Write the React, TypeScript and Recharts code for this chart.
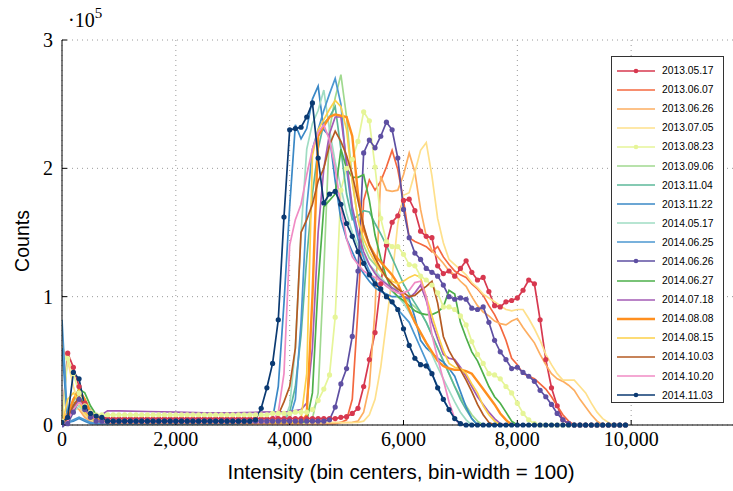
import React from 'react';
import { LineChart, Line, XAxis, YAxis, CartesianGrid, Legend } from 'recharts';

// counts are in thousands; bins are 100 wide
const seriesNames = [
  '2013.05.17', '2013.06.07', '2013.06.26', '2013.07.05', '2013.08.23', '2013.09.06',
  '2013.11.04', '2013.11.22', '2014.05.17', '2014.06.25', '2014.06.26', '2014.06.27',
  '2014.07.18', '2014.08.08', '2014.08.15', '2014.10.03', '2014.10.20', '2014.11.03',
];
const seriesColors = [
  '#d7384f', '#f4683f', '#fdae61', '#fee08b', '#e6f598', '#a0d98f',
  '#5cb89a', '#3a88c6', '#9fdcc3', '#4b97d1', '#5e4fa2', '#4daf4a',
  '#a35bb5', '#ff8f1f', '#fdd049', '#b55a22', '#f08bc4', '#0b3a72',
];
const markedSeries = ['2013.05.17', '2013.08.23', '2014.06.26', '2014.11.03'];

const xTicks = [0, 2000, 4000, 6000, 8000, 10000];
const yTicks = [0, 100, 200, 300];

// marked series: one value per bin, from bin 0
const r130517 = [
  3, 56, 45, 30, 17, 10, 7, 6, 5, 5, 5, 5, 5, 5, 5, 5, 5, 5, 5, 5, 5, 5, 5, 5, 5, 5, 5, 5, 5, 5,
  5, 5, 5, 5, 5, 5, 5, 5, 5, 5, 5, 5, 5, 5, 5, 5, 5, 5, 5, 6, 6.5, 9, 13, 30, 51, 72, 110, 140, 158, 163,
  175, 176, 167, 151, 147, 146, 124, 118, 120, 116, 122, 128, 119, 113, 115, 104, 93, 92, 96, 97,
  99, 105, 113, 110, 82, 51, 29, 15, 4, 1, 0, 0, 0, 0, 0, 0, 0, 0, 0, 0,
];
const r130823 = [
  3, 52, 40, 25, 15, 10, 8, 8, 8, 8, 8, 8, 8, 8, 8, 8, 8, 8, 8, 8, 8, 8, 8, 8, 8, 8, 8, 8, 8, 8,
  8, 8, 8, 8, 8, 8, 8, 9, 9, 9, 9, 10, 10, 10, 12, 19, 28, 39, 84, 183, 200, 207, 221, 244, 237, 201, 161, 143, 139, 139,
  133, 125, 124, 116, 113, 109, 103, 92, 92, 90, 85, 78, 65, 55, 48, 40, 39, 36, 30, 25,
  17, 9, 4, 1, 0, 0, 0, 0, 0, 0, 0, 0, 0, 0, 0, 0, 0, 0, 0, 0,
];
const r140626 = [
  0, 1, 10, 20, 12, 6, 3, 3, 3, 3, 3, 3, 3, 3, 3, 3, 3, 3, 3, 3, 3, 3, 3, 3, 3, 3, 3, 3, 3, 3,
  3, 3, 3, 3, 3, 3, 3, 3, 3, 3, 3, 3, 3, 3, 3, 3, 3, 4, 14, 32, 44, 69, 120, 212, 222, 216, 225, 236, 230, 208,
  168, 146, 134, 129, 122, 119, 116, 109, 100, 98, 99, 98, 91, 90, 92, 80, 66, 57, 51, 44,
  45, 41, 38, 34, 27, 22, 16, 9, 4, 1, 0, 0, 0, 0, 0, 0, 0, 0, 0, 0,
];
const r141103 = [
  2, 6, 41, 36, 14, 9, 7, 6, 3, 3, 3, 3, 3, 3, 3, 3, 3, 3, 3, 3, 3, 3, 3, 3, 3, 3, 3, 3, 3, 3,
  3, 3, 3, 3, 4, 13, 29, 48, 82, 162, 230, 231, 232, 240, 251, 208, 173, 180, 182, 172, 157, 147, 135, 126, 117, 110, 106, 100, 96, 90,
  75, 62, 52, 47, 46, 40, 29, 20, 12, 5, 1, 0, 0, 0, 0, 0, 0, 0, 0, 0,
  0, 0, 0, 0, 0, 0, 0, 0, 0, 0, 0, 0, 0, 0, 0, 0, 0, 0, 0, 0,
];

// plain series: [bin center, count]
const s130607 = [[0, 3], [100, 8], [200, 18], [300, 15], [400, 8], [500, 4], [600, 2], [1000, 1], [3000, 1], [4800, 1], [4900, 2], [5000, 4], [5100, 20], [5200, 90], [5300, 175], [5400, 191], [5500, 183], [5600, 190], [5700, 201], [5800, 214], [5900, 199], [6000, 175], [6100, 146], [6200, 143], [6300, 141], [6400, 139], [6500, 135], [6600, 139], [6700, 131], [6800, 125], [6900, 120], [7000, 117], [7100, 115], [7200, 110], [7300, 106], [7400, 101], [7500, 93], [7600, 86], [7700, 77], [7800, 66], [7900, 52], [8000, 47], [8100, 40], [8200, 38], [8300, 36], [8400, 32], [8500, 28], [8600, 22], [8700, 15], [8800, 8], [8900, 3], [9000, 0]];
const s130626 = [[0, 5], [100, 10], [200, 15], [300, 12], [400, 6], [500, 3], [600, 2], [1000, 1], [3000, 1], [5100, 2], [5200, 3], [5300, 10], [5400, 30], [5500, 90], [5600, 194], [5700, 183], [5800, 182], [5900, 183], [6000, 195], [6100, 212], [6200, 197], [6300, 168], [6400, 147], [6500, 136], [6600, 131], [6700, 126], [6800, 120], [6900, 117], [7000, 112], [7100, 108], [7200, 100], [7300, 93], [7400, 88], [7500, 85], [7600, 81], [7700, 79], [7800, 78], [7900, 81], [8000, 83], [8100, 76], [8200, 70], [8300, 64], [8400, 55], [8500, 47], [8600, 40], [8700, 36], [8800, 34], [8900, 31], [9000, 27], [9100, 20], [9200, 14], [9300, 8], [9400, 3], [9500, 0]];
const s130705 = [[0, 62], [100, 50], [200, 30], [300, 15], [400, 8], [500, 4], [600, 2], [1000, 1], [3000, 1], [5200, 2], [5300, 3], [5400, 8], [5500, 20], [5600, 45], [5700, 80], [5800, 115], [5900, 157], [6000, 179], [6100, 181], [6200, 197], [6300, 214], [6400, 220], [6500, 194], [6600, 161], [6700, 142], [6800, 129], [6900, 125], [7000, 121], [7100, 117], [7200, 111], [7300, 107], [7400, 102], [7500, 99], [7600, 96], [7700, 93], [7800, 90], [7900, 89], [8000, 90], [8100, 90], [8200, 83], [8300, 75], [8400, 66], [8500, 55], [8600, 47], [8700, 40], [8800, 35], [8900, 35], [9000, 35], [9100, 30], [9200, 25], [9300, 17], [9400, 10], [9500, 5], [9600, 2], [9700, 0]];
const s130906 = [[0, 0], [100, 6], [200, 18], [300, 25], [400, 20], [500, 12], [600, 6], [700, 3], [1000, 2], [3000, 2], [4300, 2], [4400, 5], [4500, 25], [4600, 120], [4700, 230], [4800, 255], [4900, 273], [5000, 240], [5100, 190], [5200, 160], [5300, 140], [5400, 130], [5500, 125], [5600, 120], [5700, 115], [5800, 110], [5900, 104], [6000, 100], [6100, 96], [6200, 92], [6300, 88], [6400, 80], [6500, 70], [6600, 60], [6700, 50], [6800, 40], [6900, 30], [7000, 22], [7100, 15], [7200, 8], [7300, 3], [7400, 0]];
const s131104 = [[0, 0], [100, 4], [200, 14], [300, 18], [400, 12], [500, 6], [600, 3], [1000, 2], [3000, 2], [3800, 2], [3900, 4], [4000, 10], [4100, 30], [4200, 70], [4300, 130], [4400, 180], [4500, 215], [4600, 235], [4700, 240], [4800, 248], [4900, 215], [5000, 180], [5100, 160], [5200, 163], [5300, 167], [5400, 166], [5500, 157], [5600, 149], [5700, 140], [5800, 130], [5900, 120], [6000, 110], [6100, 102], [6200, 95], [6300, 88], [6400, 80], [6500, 70], [6600, 60], [6700, 50], [6800, 40], [6900, 30], [7000, 20], [7100, 12], [7200, 5], [7300, 0]];
const s131122 = [[0, 60], [100, 2], [200, 3], [300, 5], [400, 3], [500, 1], [1000, 1], [3000, 1], [3600, 2], [3700, 5], [3800, 30], [3900, 95], [4000, 170], [4100, 234], [4200, 223], [4300, 231], [4400, 254], [4500, 264], [4600, 230], [4700, 225], [4800, 190], [4900, 160], [5000, 145], [5100, 135], [5200, 125], [5300, 118], [5400, 112], [5500, 107], [5600, 104], [5700, 102], [5800, 100], [5900, 100], [6000, 100], [6100, 98], [6200, 84], [6300, 66], [6400, 60], [6500, 56], [6600, 52], [6700, 49], [6800, 44], [6900, 38], [7000, 26], [7100, 14], [7200, 5], [7300, 0]];
const s140517 = [[0, 0], [100, 3], [200, 10], [300, 15], [400, 10], [500, 5], [600, 3], [1000, 2], [3000, 2], [3800, 2], [3900, 3], [4000, 15], [4100, 60], [4200, 150], [4300, 215], [4400, 235], [4500, 245], [4600, 261], [4700, 230], [4800, 205], [4900, 185], [5000, 165], [5100, 150], [5200, 140], [5300, 132], [5400, 125], [5500, 120], [5600, 115], [5700, 110], [5800, 104], [5900, 100], [6000, 95], [6100, 88], [6200, 80], [6300, 72], [6400, 64], [6500, 55], [6600, 45], [6700, 36], [6800, 27], [6900, 18], [7000, 10], [7100, 4], [7200, 0]];
const s140625 = [[0, 82], [100, 2], [200, 4], [300, 6], [400, 4], [500, 2], [600, 1], [1000, 1], [3000, 1], [3900, 2], [4000, 5], [4100, 20], [4200, 80], [4300, 170], [4400, 215], [4500, 230], [4600, 245], [4700, 258], [4800, 270], [4900, 250], [5000, 200], [5100, 165], [5200, 145], [5300, 130], [5400, 120], [5500, 112], [5600, 106], [5700, 100], [5800, 95], [5900, 90], [6000, 85], [6100, 80], [6200, 70], [6300, 60], [6400, 50], [6500, 40], [6600, 30], [6700, 20], [6800, 12], [6900, 5], [7000, 0]];
const s140627 = [[0, 0], [100, 5], [200, 20], [300, 28], [400, 25], [500, 15], [600, 8], [700, 4], [800, 2], [3000, 2], [4200, 2], [4300, 3], [4400, 25], [4500, 110], [4600, 170], [4700, 175], [4800, 180], [4900, 215], [5000, 200], [5100, 193], [5200, 193], [5300, 195], [5400, 175], [5500, 148], [5600, 130], [5700, 115], [5800, 105], [5900, 100], [6000, 97], [6100, 93], [6200, 89], [6300, 87], [6400, 86], [6500, 86], [6600, 88], [6700, 92], [6800, 105], [6900, 102], [7000, 80], [7100, 68], [7200, 57], [7300, 50], [7400, 40], [7500, 30], [7600, 22], [7700, 17], [7800, 10], [7900, 3], [8000, 0]];
const s140718 = [[0, 0], [100, 3], [200, 15], [300, 20], [400, 12], [500, 6], [600, 5], [700, 8], [800, 11], [1000, 11], [1500, 10.5], [2000, 10], [2500, 9.5], [3000, 9.5], [3500, 10], [4000, 10.5], [4200, 12], [4300, 17], [4400, 60], [4500, 150], [4600, 200], [4700, 227], [4800, 240], [4900, 240], [5000, 205], [5100, 170], [5200, 150], [5300, 135], [5400, 125], [5500, 118], [5600, 113], [5700, 110], [5800, 107], [5900, 104], [6000, 100], [6100, 99], [6200, 103], [6300, 109], [6400, 97], [6500, 80], [6600, 67], [6700, 55], [6800, 52], [6900, 51], [7000, 45], [7100, 38], [7200, 30], [7300, 22], [7400, 16], [7500, 10], [7600, 5], [7700, 1], [7800, 0]];
const s140808 = [[0, 0], [100, 8], [200, 20], [300, 27], [400, 20], [500, 10], [600, 5], [700, 3], [800, 2], [3000, 2], [4200, 2], [4300, 8], [4400, 100], [4500, 225], [4600, 233], [4700, 240], [4800, 242], [4900, 241], [5000, 240], [5100, 225], [5200, 180], [5300, 152], [5400, 140], [5500, 132], [5600, 127], [5700, 122], [5800, 117], [5900, 110], [6000, 100], [6100, 90], [6200, 80], [6300, 72], [6400, 64], [6500, 57], [6600, 50], [6700, 46], [6800, 44], [6900, 43], [7000, 43], [7100, 42], [7200, 40], [7300, 34], [7400, 28], [7500, 22], [7600, 16], [7700, 9], [7800, 4], [7900, 0]];
const s140815 = [[0, 0], [100, 20], [200, 25], [300, 18], [400, 10], [500, 5], [600, 3], [1000, 2], [3000, 2], [4100, 2], [4200, 5], [4300, 40], [4400, 210], [4500, 230], [4600, 238], [4700, 246], [4800, 253], [4900, 248], [5000, 230], [5100, 190], [5200, 160], [5300, 145], [5400, 135], [5500, 127], [5600, 120], [5700, 115], [5800, 112], [5900, 110], [6000, 112], [6100, 115], [6200, 117], [6300, 115], [6400, 100], [6500, 85], [6600, 71], [6700, 58], [6800, 48], [6900, 45], [7000, 44], [7100, 40], [7200, 32], [7300, 25], [7400, 15], [7500, 8], [7600, 3], [7700, 0]];
const s141003 = [[0, 0], [100, 5], [200, 15], [300, 22], [400, 15], [500, 8], [600, 4], [700, 2], [3000, 2], [3600, 2], [3700, 3], [3800, 8], [3900, 18], [4000, 30], [4100, 60], [4200, 150], [4300, 160], [4400, 172], [4500, 190], [4600, 200], [4700, 218], [4800, 229], [4900, 221], [5000, 210], [5100, 195], [5200, 175], [5300, 155], [5400, 140], [5500, 130], [5600, 122], [5700, 115], [5800, 110], [5900, 106], [6000, 103], [6100, 100], [6200, 101], [6300, 105], [6400, 108], [6500, 112], [6600, 95], [6700, 69], [6800, 58], [6900, 50], [7000, 43], [7100, 35], [7200, 26], [7300, 16], [7400, 8], [7500, 2], [7600, 0]];
const s141020 = [[0, 0], [100, 3], [200, 12], [300, 18], [400, 14], [500, 8], [600, 4], [700, 2], [3000, 2], [3600, 2], [3700, 3], [3800, 10], [3900, 40], [4000, 140], [4100, 160], [4200, 172], [4300, 195], [4400, 215], [4500, 228], [4600, 234], [4700, 222], [4800, 200], [4900, 170], [5000, 145], [5100, 131], [5200, 125], [5300, 120], [5400, 117], [5500, 115], [5600, 112], [5700, 108], [5800, 105], [5900, 103], [6000, 103], [6100, 105], [6200, 111], [6300, 112], [6400, 100], [6500, 70], [6600, 52], [6700, 35], [6800, 18], [6900, 5], [7000, 0]];

const binned = (vals: number[]) => vals.map((y, i) => ({ x: i * 100, y }));
const paired = (pts: number[][]) => pts.map(([x, y]) => ({ x, y }));

const seriesData = [
  binned(r130517), paired(s130607), paired(s130626), paired(s130705), binned(r130823), paired(s130906),
  paired(s131104), paired(s131122), paired(s140517), paired(s140625), binned(r140626), paired(s140627),
  paired(s140718), paired(s140808), paired(s140815), paired(s141003), paired(s141020), binned(r141103),
];

const series = seriesNames.map((name, i) => ({
  name,
  color: seriesColors[i],
  data: seriesData[i],
  marked: markedSeries.includes(name),
  width: name === '2014.08.08' ? 2.4 : 1.7,
}));

const serif = '"Liberation Serif", "DejaVu Serif", serif';
const sans = '"Liberation Sans", Arial, sans-serif';

function LegendBox() {
  return (
    <div
      style={{
        width: 113,
        height: 347,
        border: '1.6px solid #333',
        background: '#fff',
        boxSizing: 'border-box',
        paddingTop: 4,
        fontFamily: sans,
        fontSize: 10.3,
      }}
    >
      {series.map((s) => (
        <div key={s.name} style={{ display: 'flex', alignItems: 'center', height: 19.1 }}>
          <svg width={50} height={10} style={{ flex: 'none' }}>
            <line x1={5} y1={5} x2={43} y2={5} stroke={s.color} strokeWidth={s.width} />
            {s.marked && <circle cx={24} cy={5} r={2.3} fill={s.color} />}
          </svg>
          <span style={{ color: '#000' }}>{s.name}</span>
        </div>
      ))}
    </div>
  );
}

export default function App() {
  return (
    <div style={{ position: 'absolute', left: 0, top: 0, width: 733, height: 491, overflow: 'hidden', background: '#fff' }}>
      <LineChart width={760} height={491} margin={{ top: 40, right: 15, bottom: 0, left: 0 }}>
        <CartesianGrid stroke="#9a9a9a" strokeDasharray="1 4" />
        <XAxis
          dataKey="x"
          type="number"
          domain={[0, 12000]}
          ticks={xTicks}
          allowDataOverflow
          height={66}
          tickSize={-5}
          tickMargin={12}
          tickFormatter={(v: number) => v.toLocaleString('en-US')}
          tick={{ fontFamily: serif, fontSize: 20, fill: '#000' }}
          stroke="#000"
        />
        <XAxis xAxisId="top" orientation="top" type="number" domain={[0, 12000]} ticks={xTicks} height={0} tick={false} tickSize={-5} stroke="#000" />
        <YAxis
          type="number"
          domain={[0, 300]}
          ticks={yTicks}
          width={62}
          tickSize={-5}
          tickMargin={14}
          tickFormatter={(v: number) => String(v / 100)}
          tick={{ fontFamily: serif, fontSize: 20, fill: '#000' }}
          stroke="#000"
        />
        <Legend
          layout="vertical"
          align="center"
          verticalAlign="middle"
          wrapperStyle={{ left: 611, top: 56, width: 113, height: 347 }}
          content={() => <LegendBox />}
        />
        {series.map((s) => (
          <Line
            key={s.name}
            data={s.data}
            dataKey="y"
            name={s.name}
            type="linear"
            stroke={s.color}
            strokeWidth={s.width}
            dot={s.marked ? { r: 2.6, fill: s.color, stroke: s.color, strokeWidth: 0 } : false}
            activeDot={false}
            isAnimationActive={false}
          />
        ))}
        <text x={68} y={27} fontFamily={serif} fontSize={20} fill="#000">
          ·10<tspan fontSize={15} dy={-9}>5</tspan>
        </text>
        <text
          x={22}
          y={241}
          transform="rotate(-90 22 241)"
          textAnchor="middle"
          dominantBaseline="central"
          fontFamily={sans}
          fontSize={19.5}
          fill="#000"
        >
          Counts
        </text>
        <text x={401} y={479} textAnchor="middle" fontFamily={sans} fontSize={20.5} fill="#000">
          Intensity (bin centers, bin-width = 100)
        </text>
      </LineChart>
    </div>
  );
}
